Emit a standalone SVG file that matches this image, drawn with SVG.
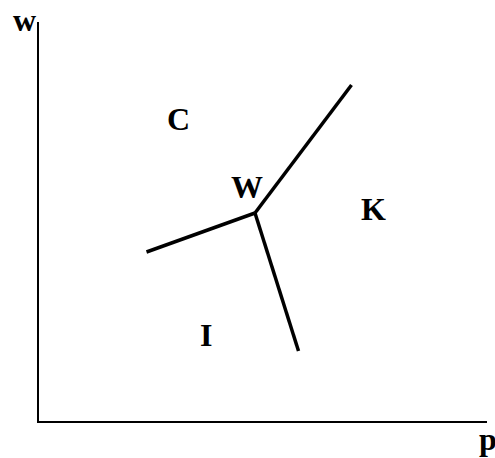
<svg xmlns="http://www.w3.org/2000/svg" width="495" height="458" viewBox="0 0 495 458">
<style>
.lbl{font-family:"Liberation Serif","Times New Roman",serif;font-weight:bold;font-size:32px;fill:#000}
.axis{stroke:#000;stroke-width:2;fill:none}
.edge{stroke:#000;stroke-width:3.5;fill:none;stroke-linecap:butt}
</style>
<rect width="495" height="458" fill="#fff"/>
<g id="axes">
<polyline class="axis" points="38,22 38,422 487,422"/>
<text class="lbl" x="13" y="31">w</text>
<text class="lbl" x="479" y="450">p</text>
</g>
<g id="connectors">
<line class="edge" x1="255" y1="213" x2="351.5" y2="85"/>
<line class="edge" x1="255" y1="213" x2="146.5" y2="252"/>
<line class="edge" x1="255" y1="213" x2="298.5" y2="351"/>
</g>
<g id="C"><text class="lbl" x="167" y="130">C</text></g>
<g id="W"><text class="lbl" x="231" y="198">W</text></g>
<g id="K"><text class="lbl" x="361" y="220">K</text></g>
<g id="I"><text class="lbl" x="200" y="346">I</text></g>
</svg>
